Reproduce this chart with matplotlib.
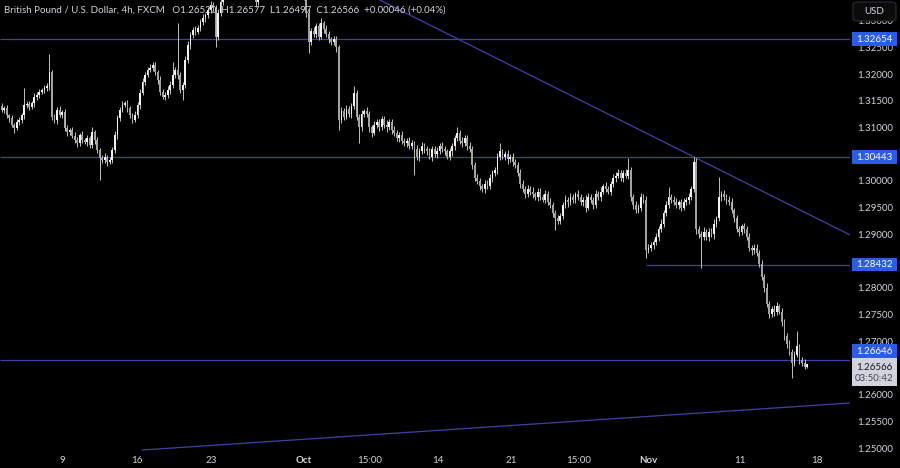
import numpy as np
import matplotlib.pyplot as plt
import matplotlib.transforms as mtransforms
from matplotlib.patches import Rectangle, FancyBboxPatch

plt.rcParams['font.family'] = ['Lato', 'DejaVu Sans']

# GBPUSD 4h closes, in pips above 1.25000
close_pips = np.array("""
633 636 623 618 605 599 610 614 623 642
644 638 646 657 661 666 670 674 678 704
620 614 633 623 629 599 591 595 584 576
571 586 576 573 580 567 591 576 558 543
539 545 535 539 558 586 618 633 642 646
636 623 614 623 642 665 685 698 708 711
717 704 689 666 657 661 670 679 698 708
698 670 679 726 754 773 782 779 786 797
805 810 820 829 823 770 815 835 850 865
875 880 890 900 905 895 910 920 905 880
860 835 845 860 880 895 905 915 925 920
900 890 880 875 880 870 865 870 860 855
845 815 760 780 775 790 770 795 785 775
765 760 765 750 614 630 620 635 625 640
665 620 600 625 630 625 600 590 605 610
600 615 605 600 610 595 590 580 585 575
570 575 565 570 560 545 555 565 560 555
545 560 550 555 565 560 555 545 555 565
580 590 575 570 580 565 560 530 505 500
490 485 495 490 505 515 520 545 555 545
550 540 545 535 530 515 495 485 475 485
480 475 470 480 470 465 475 460 455 440
430 425 435 455 465 460 470 465 475 470
460 465 450 470 465 455 475 470 480 490
485 480 495 505 510 515 505 515 510 520
470 455 445 450 470 465 370 375 380 385
395 410 420 440 455 470 465 460 455 460
450 460 465 470 485 535 410 400 395 405
395 405 400 420 430 470 475 470 465 460
445 430 410 405 415 410 395 375 370 375
365 345 320 300 270 250 260 255 265 255
235 210 195 180 160 175 190 165 160 152
156.6
""".split(), dtype=float)

up_wick = np.array("""
5 4 6 3 5 4 6 5 4 32
6 5 4 7 5 6 4 5 6 34
4 6 5 7 4 5 6 4 5 7
6 4 8 5 6 4 10 5 6 4
5 7 4 6 5 8 6 5 7 4
6 5 4 7 5 6 8 5 6 7
5 6 4 7 5 6 8 7 25 6
87 5 6 7 8 5 6 7 5 6
7 5 6 8 5 6 7 6 5 7
6 8 5 7 6 5 7 6 8 5
6 7 5 6 8 5 6 7 5 6
7 5 6 8 5 6 7 5 6 7
6 5 7 6 8 5 6 10 5 7
6 5 7 6 5 8 6 7 5 6
13 5 6 7 5 8 6 5 7 6
5 7 6 8 5 6 7 5 6 8
6 5 7 6 5 8 6 7 5 6
7 5 6 8 5 7 6 5 7 6
6 11 5 7 6 5 8 6 5 7
6 5 7 6 8 5 6 7 16 5
6 7 5 8 6 5 7 6 5 7
6 8 5 7 6 5 7 6 8 5
6 7 5 6 8 5 7 6 5 7
6 5 8 7 6 5 7 6 8 5
7 6 5 8 6 7 5 6 7 23
6 5 7 6 8 5 6 7 5 6
7 5 8 6 7 18 5 6 7 5
6 8 5 7 6 10 7 5 6 8
5 7 6 8 5 37 6 7 5 6
8 5 7 6 5 7 6 8 5 7
6 5 7 6 8 5 6 7 8 5
7 6 5 8 6 7 29 5 6 7
1
""".split(), dtype=float)

dn_wick = np.array("""
4 6 5 7 5 10 4 6 5 7
5 6 4 7 5 6 4 5 6 8
6 5 7 4 6 5 7 6 4 5
7 5 6 4 8 5 6 7 5 41
6 5 7 4 6 5 7 6 5 4
7 6 5 4 6 7 5 6 4 5
6 5 7 6 4 5 6 7 5 6
7 6 19 5 6 7 5 6 4 5
6 7 5 6 5 19 7 6 5 7
5 6 7 5 6 8 5 7 6 5
7 10 6 5 7 6 5 8 6 5
6 7 5 6 8 5 7 6 5 7
6 8 20 6 5 7 6 5 8 6
7 5 6 8 19 6 7 5 6 8
5 6 29 7 5 6 8 7 5 6
7 5 6 8 5 7 6 5 8 6
5 7 6 5 49 6 7 5 8 6
5 7 6 8 5 6 7 5 6 8
7 5 6 7 5 8 6 7 5 6
8 6 7 5 6 7 5 8 6 5
6 8 5 7 6 5 8 6 7 5
6 7 5 8 6 5 7 6 5 8
22 6 5 7 6 8 5 6 7 5
6 7 8 5 6 7 5 6 8 5
6 5 7 6 8 5 6 7 5 6
8 7 6 5 7 6 14 5 6 7
5 8 6 7 5 6 7 5 6 8
7 5 6 8 6 5 10 7 58 6
6 7 5 8 6 5 7 6 8 5
6 7 5 8 6 7 5 6 8 7
5 7 6 8 6 7 5 8 6 5
6 8 7 5 29 6 5 7 6 5
2
""".split(), dtype=float)

first_open = 640

levels = [1.32654, 1.30443, 1.28432, 1.26646]
level_start = [None, None, 256, None]
down_trend = [(105, 1.3445), (337, 1.2899)]
up_trend = [(56, 1.24963), (337, 1.25842)]

xtick_pos = [24, 53.8, 83.2, 120.1, 146.4, 173.4, 202.4, 229.4, 256.8, 293.4, 324]
xtick_lab = ['9', '16', '23', 'Oct', '15:00', '14', '21', '15:00', 'Nov', '11', '18']
hidden_ticks = [1.305, 1.285, 1.265]   # covered by the price labels
title = ("British Pound / U.S. Dollar, 4h, FXCM   O1.26520  H1.26577  "
         "L1.26497  C1.26566  +0.00046 (+0.04%)")
countdown = '03:50:42'

close = 1.25 + close_pips / 1e4
opn = np.r_[1.25 + first_open / 1e4, close[:-1]]
high = np.maximum(opn, close) + up_wick / 1e4
low = np.minimum(opn, close) - dn_wick / 1e4
x = np.arange(len(close))

bg = '#000000'
txt = '#d1d4dc'
line_c = '#3b44a6'
label_c = '#2b5ce6'

fig = plt.figure(figsize=(9, 4.68), dpi=100, facecolor=bg)
ax = fig.add_axes([0, 16 / 468, 850 / 900, 452 / 468], facecolor=bg)

up = close >= opn
ax.vlines(x, low, high, color='#cfcfcf', lw=0.65, zorder=3)
body_h = np.maximum(np.abs(close - opn), 0.00012)
body_b = np.minimum(opn, close)
ax.bar(x[up], body_h[up], bottom=body_b[up], width=0.7, color='#f2f2f2', lw=0, zorder=4)
ax.bar(x[~up], body_h[~up], bottom=body_b[~up], width=0.7, color='#a3a3a3', lw=0, zorder=4)

xmin, xmax = -0.64, 337.07
for lv, st in zip(levels, level_start):
    ax.hlines(lv, xmin if st is None else st, xmax, color=line_c, lw=0.9, zorder=2)

for tl in (down_trend, up_trend):
    (x0, y0), (x1, y1) = tl
    ax.plot([x0, x1], [y0, y1], color=line_c, lw=0.9, zorder=2)

ax.set_xlim(xmin, xmax)
ax.set_ylim(1.249253, 1.333850)

ax.set_xticks(xtick_pos)
ax.set_xticklabels(xtick_lab)
for t in ax.get_xticklabels():
    if t.get_text() in ('Oct', 'Nov'):
        t.set_fontweight('bold')
yt = [v for v in np.arange(1.25, 1.3301, 0.005)
      if not any(abs(v - h) < 1e-6 for h in hidden_ticks)]
ax.yaxis.tick_right()
ax.set_yticks(yt)
ax.set_yticklabels(['%.5f' % v for v in yt])
ax.tick_params(axis='x', length=0, pad=3, labelsize=7, labelcolor=txt)
ax.tick_params(axis='y', length=0, pad=5, labelsize=7, labelcolor=txt)
for s in ax.spines.values():
    s.set_visible(False)

blend = mtransforms.blended_transform_factory(fig.transFigure, ax.transData)

# current price tag
last = close[-1]
ax.add_patch(Rectangle((852 / 900, last - 0.0040), 45 / 900, 0.0052, transform=blend,
                       facecolor='#d1d4dc', edgecolor='none', clip_on=False, zorder=10))
ax.text(874.5 / 900, last - 0.0005, '%.5f' % last, transform=blend, ha='center', va='center',
        fontsize=7, color='#131722', zorder=11, clip_on=False)
ax.text(874.5 / 900, last - 0.0026, countdown, transform=blend, ha='center', va='center',
        fontsize=7, color='#434651', zorder=11, clip_on=False)

# level tags; the one next to the price tag is pushed up, as on the chart
for lv in levels:
    ly = lv
    if abs(lv - last) < 0.0025:
        ly = last + 0.0012 + 0.00126
    ax.add_patch(Rectangle((852 / 900, ly - 0.00126), 45 / 900, 0.00252, transform=blend,
                           facecolor=label_c, edgecolor='none', clip_on=False, zorder=12))
    ax.text(874.5 / 900, ly, '%.5f' % lv, transform=blend, ha='center', va='center',
            fontsize=7, color='white', zorder=13, clip_on=False)

fig.patches.append(FancyBboxPatch((853 / 900, 1 - 21 / 468), 43 / 900, 19 / 468,
                                  boxstyle='round,pad=0,rounding_size=0.006',
                                  transform=fig.transFigure, facecolor='#0b0b0b',
                                  edgecolor='#2a2e39', lw=0.8, zorder=20))
fig.text(874.5 / 900, 1 - 11 / 468, 'USD', ha='center', va='center', fontsize=7,
         color=txt, zorder=21)

fig.text(4 / 900, 1 - 10 / 468, title, ha='left', va='center', fontsize=7, color=txt, zorder=5)

fig.savefig('out.png', dpi=100, facecolor=bg)
